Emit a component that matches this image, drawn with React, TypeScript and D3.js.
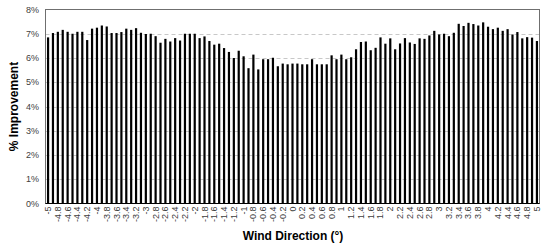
import React from 'react';
import * as d3 from 'd3';

// wind direction from -5 to 5 in 0.1 steps
const directions = [
  -5, -4.9, -4.8, -4.7, -4.6, -4.5, -4.4, -4.3, -4.2, -4.1,
  -4, -3.9, -3.8, -3.7, -3.6, -3.5, -3.4, -3.3, -3.2, -3.1,
  -3, -2.9, -2.8, -2.7, -2.6, -2.5, -2.4, -2.3, -2.2, -2.1,
  -2, -1.9, -1.8, -1.7, -1.6, -1.5, -1.4, -1.3, -1.2, -1.1,
  -1, -0.9, -0.8, -0.7, -0.6, -0.5, -0.4, -0.3, -0.2, -0.1,
  0, 0.1, 0.2, 0.3, 0.4, 0.5, 0.6, 0.7, 0.8, 0.9,
  1, 1.1, 1.2, 1.3, 1.4, 1.5, 1.6, 1.7, 1.8, 1.9,
  2, 2.1, 2.2, 2.3, 2.4, 2.5, 2.6, 2.7, 2.8, 2.9,
  3, 3.1, 3.2, 3.3, 3.4, 3.5, 3.6, 3.7, 3.8, 3.9,
  4, 4.1, 4.2, 4.3, 4.4, 4.5, 4.6, 4.7, 4.8, 4.9,
  5,
];

// % improvement per direction
const improvement = [
  6.85, 7.03, 7.08, 7.16, 7.08, 7.0, 7.08, 7.08, 6.74, 7.21,
  7.25, 7.34, 7.3, 7.03, 7.03, 7.07, 7.21, 7.16, 7.23, 7.04,
  6.99, 7.0, 6.9, 6.63, 6.79, 6.68, 6.82, 6.72, 7.0, 7.0,
  7.0, 6.82, 6.89, 6.7, 6.55, 6.59, 6.41, 6.25, 6.0, 6.3,
  6.07, 5.58, 6.14, 5.53, 5.95, 5.95, 6.01, 5.66, 5.77, 5.74,
  5.77, 5.77, 5.74, 5.74, 5.95, 5.74, 5.74, 5.74, 6.11, 5.95,
  6.14, 5.95, 6.03, 6.36, 6.66, 6.68, 6.32, 6.42, 6.85, 6.59,
  6.81, 6.36, 6.6, 6.82, 6.64, 6.58, 6.81, 6.79, 6.93, 7.12,
  6.97, 7.0, 6.9, 7.04, 7.41, 7.32, 7.45, 7.4, 7.34, 7.47,
  7.29, 7.19, 7.25, 7.12, 7.19, 6.97, 7.07, 6.81, 6.86, 6.84,
  6.7,
];

const yTicks = [0, 1, 2, 3, 4, 5, 6, 7, 8];

const W = 550;
const H = 246;
const FONT = '"Liberation Sans", Arial, sans-serif';

export default function App() {
  const left = 45.5;
  const right = 539.5;
  const top = 9.5;
  const bottom = 203.5;

  const x = d3.scaleBand<number>()
    .domain(directions.map((_, i) => i))
    .range([left, right])
    .paddingInner(0.55)
    .paddingOuter(0.3);

  const y = d3.scaleLinear().domain([0, 8]).range([bottom, top]);

  const fmt = (v: number) => String(Math.round(v * 10) / 10);

  return (
    <svg width={W} height={H} style={{ position: 'absolute', left: 0, top: 0 }}>
      <rect width={W} height={H} fill="#fff" />
      {yTicks.slice(1, -1).map(t => (
        <line key={t} x1={left} x2={right} y1={Math.round(y(t)) + 0.5} y2={Math.round(y(t)) + 0.5}
          stroke="#c8c8c8" strokeDasharray="4,3" />
      ))}
      {improvement.map((v, i) => (
        <rect key={i} x={x(i)} y={y(v)} width={x.bandwidth()} height={bottom - y(v)} fill="#000" />
      ))}
      <rect x={left} y={top} width={right - left} height={bottom - top} fill="none" stroke="#6f6f6f" />
      <line x1={left} x2={right} y1={bottom} y2={bottom} stroke="#000" />
      {yTicks.map(t => (
        <text key={t} x={39} y={y(t)} dy="0.35em" textAnchor="end" fontFamily={FONT} fontSize={9} fill="#404040">
          {t}%
        </text>
      ))}
      {directions.map((d, i) => i % 2 === 0 ? (
        <text key={i} transform={`translate(${x(i)! + x.bandwidth() / 2 + 3},${bottom + 3}) rotate(-90)`}
          textAnchor="end" fontFamily={FONT} fontSize={9} fill="#404040">
          {fmt(d)}
        </text>
      ) : null)}
      <text transform={`translate(18,${(top + bottom) / 2}) rotate(-90)`} textAnchor="middle"
        fontFamily={FONT} fontSize={12} fontWeight="bold" fill="#000">
        % Improvement
      </text>
      <text x={293} y={240} textAnchor="middle" fontFamily={FONT} fontSize={12} fontWeight="bold" fill="#000">
        Wind Direction (°)
      </text>
    </svg>
  );
}
